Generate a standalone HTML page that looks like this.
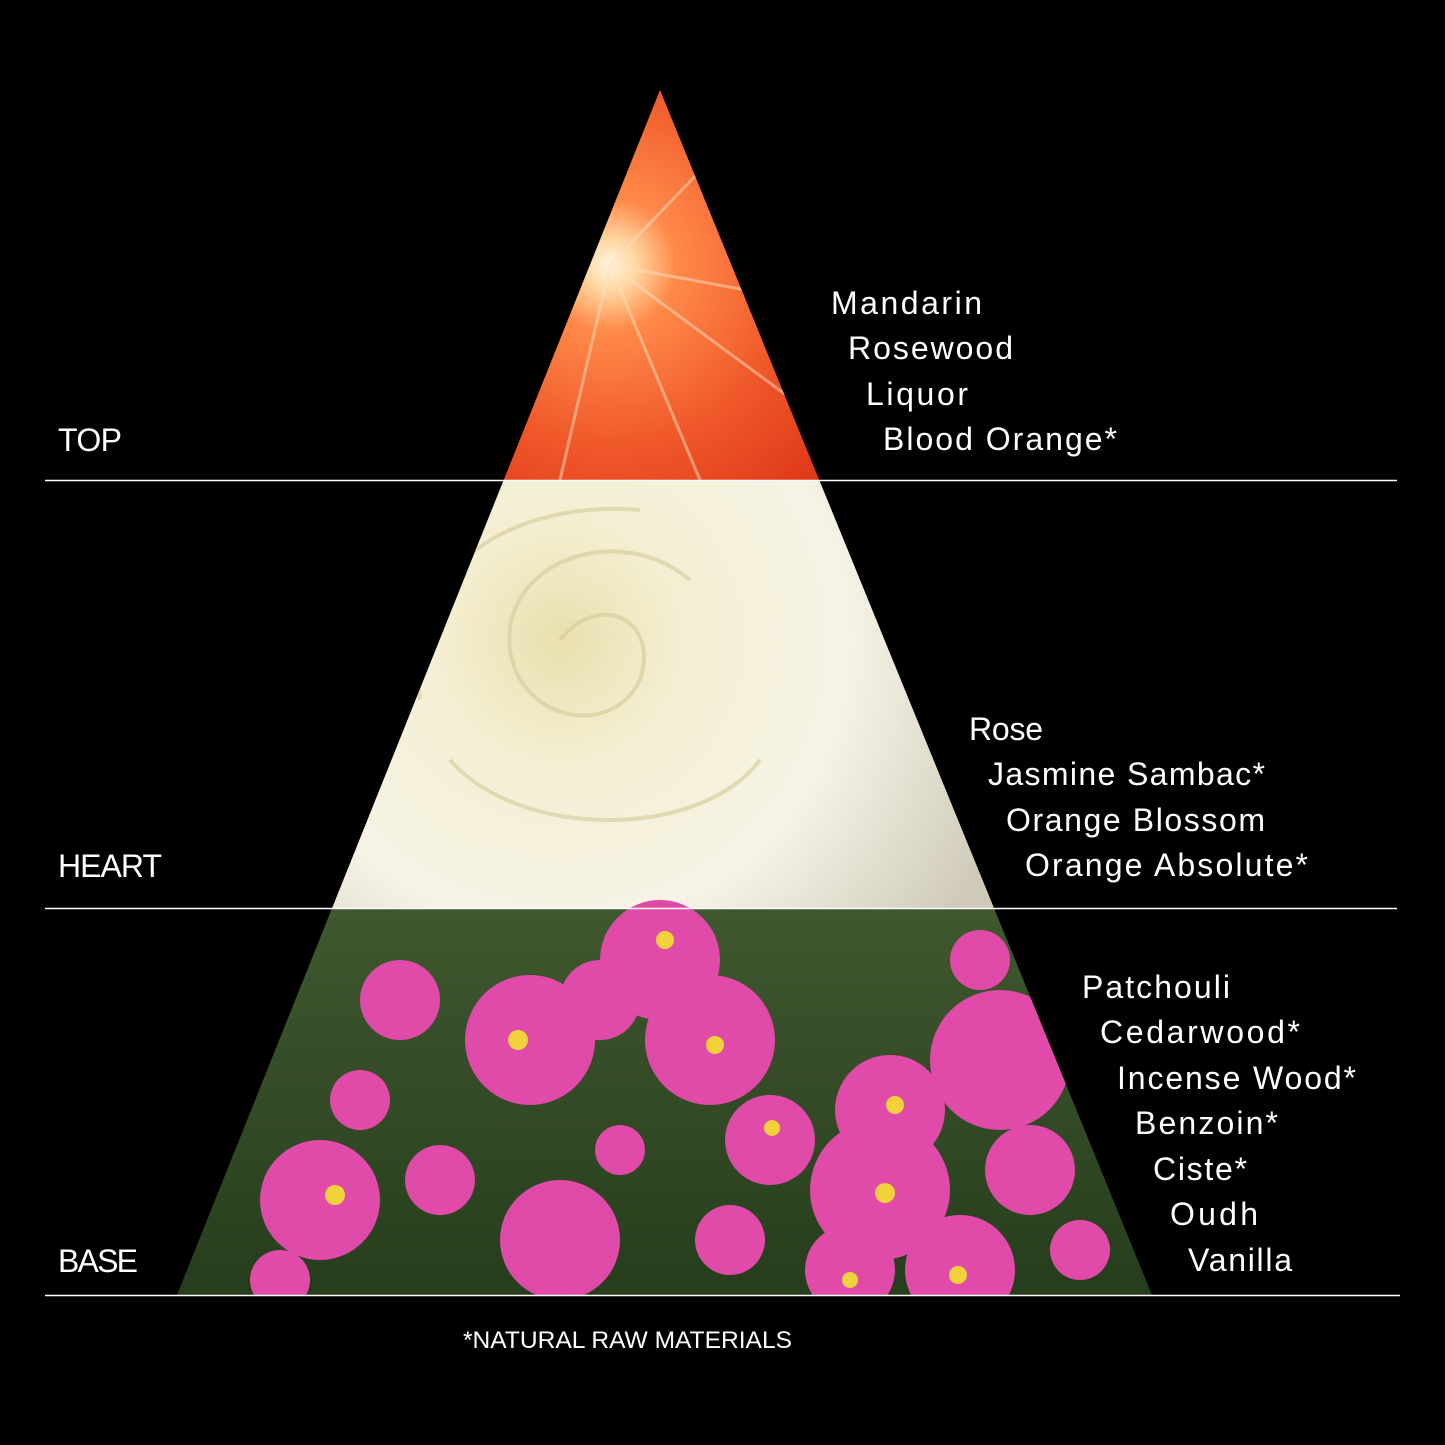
<!DOCTYPE html>
<html><head><meta charset="utf-8"><style>
html,body{margin:0;padding:0;background:#000;}
svg{display:block;}
text{font-family:"Liberation Sans",sans-serif;fill:#fff;}
</style></head><body>
<svg width="1445" height="1445" viewBox="0 0 1445 1445" xmlns="http://www.w3.org/2000/svg">
<defs>
<clipPath id="tri"><polygon points="660,90 1152,1295 177,1295"/></clipPath>
<radialGradient id="og" cx="610" cy="265" r="330" gradientUnits="userSpaceOnUse">
<stop offset="0" stop-color="#fff6e0"/><stop offset="0.08" stop-color="#ffd6a0"/><stop offset="0.2" stop-color="#ff8a4a"/><stop offset="0.55" stop-color="#f0582a"/><stop offset="1" stop-color="#d92e14"/>
</radialGradient>
<radialGradient id="rg" cx="560" cy="640" r="480" gradientUnits="userSpaceOnUse">
<stop offset="0" stop-color="#e9dfae"/><stop offset="0.25" stop-color="#f4efd2"/><stop offset="0.6" stop-color="#f6f3e6"/><stop offset="1" stop-color="#cfcab8"/>
</radialGradient>
<linearGradient id="gg" x1="0" y1="0" x2="0" y2="1">
<stop offset="0" stop-color="#40582f"/><stop offset="1" stop-color="#263d1c"/>
</linearGradient>
</defs>
<g clip-path="url(#tri)">
<rect x="0" y="0" width="1445" height="481" fill="url(#og)"/>
<g stroke="#ffe0c0" stroke-width="3" opacity="0.5">
<line x1="610" y1="265" x2="820" y2="420"/><line x1="610" y1="265" x2="700" y2="480"/><line x1="610" y1="265" x2="560" y2="480"/><line x1="610" y1="265" x2="720" y2="150"/><line x1="610" y1="265" x2="800" y2="300"/>
</g>
<rect x="0" y="481" width="1445" height="428" fill="url(#rg)"/>
<g fill="none" stroke="#d8cf9f" stroke-width="4" opacity="0.7">
<path d="M560 640 C600 590 660 620 640 680 C610 740 520 720 510 650 C500 560 620 520 690 580"/>
<path d="M450 760 C520 840 700 840 760 760"/>
<path d="M420 700 C400 560 520 500 640 510"/>
</g>
<rect x="0" y="909" width="1445" height="390" fill="url(#gg)"/>
<g fill="#e04aa8">
<circle cx="320" cy="1200" r="60"/><circle cx="530" cy="1040" r="65"/><circle cx="660" cy="960" r="60"/><circle cx="710" cy="1040" r="65"/><circle cx="880" cy="1190" r="70"/><circle cx="890" cy="1110" r="55"/><circle cx="1000" cy="1060" r="70"/><circle cx="560" cy="1240" r="60"/><circle cx="960" cy="1270" r="55"/><circle cx="770" cy="1140" r="45"/><circle cx="400" cy="1000" r="40"/><circle cx="850" cy="1270" r="45"/><circle cx="1030" cy="1170" r="45"/><circle cx="440" cy="1180" r="35"/><circle cx="280" cy="1280" r="30"/><circle cx="600" cy="1000" r="40"/><circle cx="360" cy="1100" r="30"/><circle cx="730" cy="1240" r="35"/><circle cx="1080" cy="1250" r="30"/><circle cx="620" cy="1150" r="25"/><circle cx="980" cy="960" r="30"/>
</g>
<g fill="#f2d23a">
<circle cx="335" cy="1195" r="10"/><circle cx="518" cy="1040" r="10"/><circle cx="665" cy="940" r="9"/><circle cx="715" cy="1045" r="9"/><circle cx="885" cy="1193" r="10"/><circle cx="895" cy="1105" r="9"/><circle cx="958" cy="1275" r="9"/><circle cx="850" cy="1280" r="8"/><circle cx="772" cy="1128" r="8"/>
</g>
</g>
<g stroke="#fff" stroke-width="1.5">
<line x1="45" y1="480.5" x2="1397" y2="480.5"/>
<line x1="45" y1="908.5" x2="1397" y2="908.5"/>
<line x1="45" y1="1295.5" x2="1400" y2="1295.5"/>
</g>
<g font-size="32" lengthAdjust="spacingAndGlyphs">
<text x="58" y="451" textLength="64">TOP</text>
<text x="58" y="877" textLength="104">HEART</text>
<text x="58" y="1272" textLength="80">BASE</text>
<text x="831" y="314" textLength="151">Mandarin</text>
<text x="848" y="359" textLength="165">Rosewood</text>
<text x="866" y="405" textLength="102">Liquor</text>
<text x="883" y="450" textLength="234">Blood Orange*</text>
<text x="969" y="740" textLength="74">Rose</text>
<text x="988" y="785" textLength="277">Jasmine Sambac*</text>
<text x="1006" y="831" textLength="259">Orange Blossom</text>
<text x="1025" y="876" textLength="283">Orange Absolute*</text>
<text x="1082" y="998" textLength="148">Patchouli</text>
<text x="1100" y="1043" textLength="200">Cedarwood*</text>
<text x="1117" y="1089" textLength="239">Incense Wood*</text>
<text x="1135" y="1134" textLength="143">Benzoin*</text>
<text x="1153" y="1180" textLength="94">Ciste*</text>
<text x="1170" y="1225" textLength="88">Oudh</text>
<text x="1188" y="1271" textLength="104">Vanilla</text>
</g>
<text x="463" y="1348" font-size="24" textLength="329" lengthAdjust="spacingAndGlyphs">*NATURAL RAW MATERIALS</text>
</svg>
</body></html>
